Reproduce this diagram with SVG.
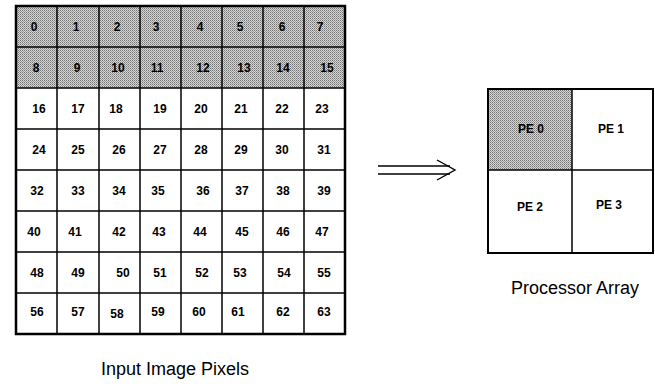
<svg xmlns="http://www.w3.org/2000/svg" width="655" height="384" viewBox="0 0 655 384">
<style>
.num{font-family:"Liberation Sans",Arial,sans-serif;font-size:12px;font-weight:bold;text-anchor:middle;fill:#000}
.lbl{font-family:"Liberation Sans",Arial,sans-serif;font-size:18px;text-anchor:middle;fill:#000}
.grid{stroke:#000;stroke-width:1.5;fill:none}
.frame{stroke:#000;stroke-width:2.5;fill:none}
</style>
<defs>
<pattern id="stip" width="2" height="2" patternUnits="userSpaceOnUse">
<rect width="2" height="2" fill="#d8d8d8"/>
<rect width="1" height="1" fill="#707070"/>
<rect x="1" y="1" width="1" height="1" fill="#9a9a9a"/>
</pattern>
</defs>
<g id="image-pixels">
<rect x="16" y="6" width="329" height="82" fill="url(#stip)"/>
<g class="grid">
<line x1="57" y1="6" x2="57" y2="334"/><line x1="99" y1="6" x2="99" y2="334"/><line x1="140" y1="6" x2="140" y2="334"/><line x1="181" y1="6" x2="181" y2="334"/><line x1="222" y1="6" x2="222" y2="334"/><line x1="263" y1="6" x2="263" y2="334"/><line x1="304" y1="6" x2="304" y2="334"/>
<line x1="16" y1="47" x2="345" y2="47"/><line x1="16" y1="88" x2="345" y2="88"/><line x1="16" y1="129" x2="345" y2="129"/><line x1="16" y1="170" x2="345" y2="170"/><line x1="16" y1="211" x2="345" y2="211"/><line x1="16" y1="252" x2="345" y2="252"/><line x1="16" y1="293" x2="345" y2="293"/>
</g>
<rect class="frame" x="16" y="6" width="329" height="328"/>
<g class="num">
<text x="34" y="31">0</text><text x="76" y="31">1</text><text x="117" y="31">2</text><text x="156" y="31">3</text><text x="200" y="31">4</text><text x="240" y="31">5</text><text x="282" y="31">6</text><text x="320" y="31">7</text>
<text x="36" y="72">8</text><text x="77" y="72">9</text><text x="118" y="72">10</text><text x="157" y="72">11</text><text x="203" y="72">12</text><text x="244" y="72">13</text><text x="283" y="72">14</text><text x="327" y="72">15</text>
<text x="39" y="113">16</text><text x="78" y="113">17</text><text x="116" y="113">18</text><text x="160" y="113">19</text><text x="201" y="113">20</text><text x="241" y="113">21</text><text x="282" y="113">22</text><text x="322" y="113">23</text>
<text x="39" y="154">24</text><text x="78" y="154">25</text><text x="119" y="154">26</text><text x="160" y="154">27</text><text x="201" y="154">28</text><text x="241" y="154">29</text><text x="282" y="154">30</text><text x="324" y="154">31</text>
<text x="37" y="195">32</text><text x="78" y="195">33</text><text x="119" y="195">34</text><text x="158" y="195">35</text><text x="203" y="195">36</text><text x="242" y="195">37</text><text x="283" y="195">38</text><text x="324" y="195">39</text>
<text x="34" y="236">40</text><text x="75" y="236">41</text><text x="119" y="236">42</text><text x="159" y="236">43</text><text x="200" y="236">44</text><text x="242" y="236">45</text><text x="283" y="236">46</text><text x="322" y="236">47</text>
<text x="37" y="277">48</text><text x="78" y="277">49</text><text x="123" y="277">50</text><text x="160" y="277">51</text><text x="202" y="277">52</text><text x="240" y="277">53</text><text x="284" y="277">54</text><text x="324" y="277">55</text>
<text x="37" y="316">56</text><text x="78" y="316">57</text><text x="117" y="318">58</text><text x="158" y="316">59</text><text x="199" y="316">60</text><text x="238" y="316">61</text><text x="283" y="316">62</text><text x="324" y="316">63</text>
</g>
</g>
<g id="processor-array">
<rect x="488" y="89" width="84" height="81" fill="url(#stip)"/>
<g class="grid"><line x1="572" y1="89" x2="572" y2="253"/><line x1="488" y1="170" x2="653" y2="170"/></g>
<rect x="488" y="89" width="165" height="164" fill="none" stroke="#000" stroke-width="2"/>
<g class="num">
<text x="531" y="133">PE 0</text><text x="611" y="133">PE 1</text><text x="530" y="211">PE 2</text><text x="609" y="209">PE 3</text>
</g>
</g>
<g id="connectors">
<g stroke="#000" stroke-width="1.4" fill="none">
<line x1="378" y1="166" x2="450" y2="166"/>
<line x1="378" y1="174" x2="450" y2="174"/>
<polyline points="437,160 455,170 437,180"/>
</g>
</g>
<text class="lbl" x="575" y="294">Processor Array</text>
<text class="lbl" x="175" y="375">Input Image Pixels</text>
</svg>
